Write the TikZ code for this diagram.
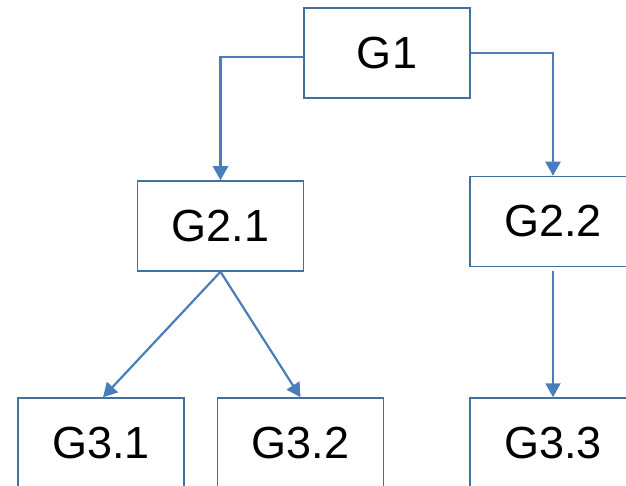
\documentclass[tikz,border=0pt]{standalone}
\usepackage{xcolor}
\usepackage{fontspec}
\setmainfont{Liberation Sans}
\usepackage{tikz}
\usetikzlibrary{calc}
\usetikzlibrary{arrows.meta}
\usetikzlibrary{positioning}
\definecolor{boxline}{HTML}{41719C}
\definecolor{arrowline}{HTML}{4A7EBB}
\tikzset{>={Triangle[length=14pt, width=15pt]}}
\tikzstyle{goal} = [rectangle, draw = boxline, line width = 1.5pt, fill = white, minimum width = 166pt, minimum height = 90pt, inner sep = 0pt, font = \fontsize{45}{54}\selectfont]
\tikzstyle{link} = [->, draw = arrowline, line width = 2.2pt]

\begin{document}
\begin{tikzpicture}[x = 1pt, y = -1pt]
\useasboundingbox (0, 0) rectangle (626, 486);
\node [goal] (G1) at (387, 53) {G1};
\node [goal] (G21) at (220.5, 226) {G2.1};
\node [goal] (G22) at (553, 221.5) {G2.2};
\node [goal] (G31) at (101, 443) {G3.1};
\node [goal] (G32) at (300.5, 443) {G3.2};
\node [goal] (G33) at (553, 443) {G3.3};
\draw [link] ([yshift = -4pt] G1.west) -| (G21.north);
\draw [link] (G1.east) -| (G22.north);
\draw [link] (G21.south) to ([xshift = 2pt] G31.north);
\draw [link] (G21.south) to (G32.north);
\draw [link, shorten <= 4pt] (G22.south) to (G33.north);
\end{tikzpicture}
\end{document}
